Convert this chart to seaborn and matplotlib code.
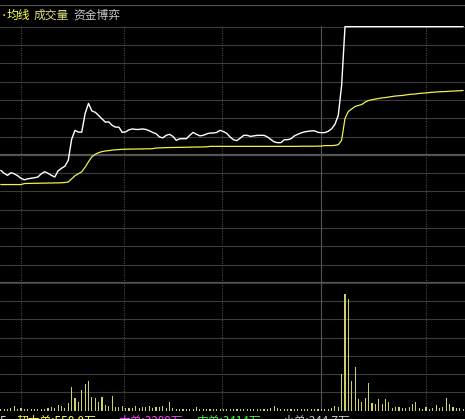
import numpy as np
import pandas as pd
import matplotlib
matplotlib.use("Agg")
import matplotlib.pyplot as plt
import seaborn as sns

# ---------------- data ----------------
# intraday price, % change vs previous close, one value per minute
price = [
    -1.21, -1.44, -1.60, -1.40, -1.48, -1.63, -1.83, -1.95, -1.87, -1.83,
    -1.79, -1.73, -1.48, -1.32, -1.44, -1.60, -1.73, -1.25, -1.05, -0.89,
    -0.43, 1.21, 1.91, 1.77, 1.77, 3.23, 4.01, 3.42, 3.32, 3.07,
    2.80, 2.55, 2.57, 2.30, 2.16, 2.16, 1.75, 1.79, 1.95, 2.02,
    1.98, 1.98, 2.02, 1.98, 1.88, 1.75, 1.65, 1.40, 1.32, 1.52,
    1.60, 1.44, 1.13, 1.25, 1.26, 1.26, 1.52, 1.75, 1.60, 1.48,
    1.52, 1.63, 1.70, 1.70, 1.75, 1.91, 1.81, 1.67, 1.38, 1.17,
    1.11, 1.32, 1.52, 1.52, 1.44, 1.48, 1.52, 1.52, 1.52, 1.40,
    1.21, 1.01, 0.95, 0.95, 1.17, 1.18, 1.25, 1.48, 1.60, 1.71,
    1.79, 1.83, 1.87, 1.87, 1.75, 1.73, 1.73, 1.83, 2.02, 2.37,
    3.07, 5.41, 10.0, 10.0, 10.0, 10.0, 10.0, 10.0, 10.0, 10.0,
    10.0, 10.0, 10.0, 10.0, 10.0, 10.0, 10.0, 10.0, 10.0, 10.0,
    10.0, 10.0, 10.0, 10.0, 10.0, 10.0, 10.0, 10.0, 10.0, 10.0,
    10.0, 10.0, 10.0, 10.0, 10.0, 10.0, 10.0, 10.0,
]
# average price line (均线), % change
avg_line = [
    -2.32, -2.32, -2.32, -2.32, -2.32, -2.32, -2.32, -2.24, -2.23, -2.23,
    -2.22, -2.22, -2.21, -2.21, -2.20, -2.20, -2.19, -2.19, -2.18, -2.16,
    -2.12, -1.87, -1.63, -1.48, -1.32, -0.97, -0.54, -0.16, 0.04, 0.17,
    0.25, 0.30, 0.33, 0.37, 0.39, 0.41, 0.43, 0.44, 0.44, 0.45,
    0.45, 0.46, 0.46, 0.47, 0.47, 0.48, 0.53, 0.54, 0.55, 0.56,
    0.57, 0.57, 0.58, 0.58, 0.59, 0.59, 0.60, 0.60, 0.61, 0.61,
    0.62, 0.62, 0.66, 0.66, 0.66, 0.66, 0.66, 0.66, 0.66, 0.66,
    0.66, 0.66, 0.66, 0.66, 0.66, 0.66, 0.66, 0.66, 0.66, 0.66,
    0.66, 0.66, 0.66, 0.66, 0.66, 0.66, 0.66, 0.66, 0.66, 0.67,
    0.67, 0.67, 0.67, 0.67, 0.68, 0.68, 0.72, 0.72, 0.72, 0.74,
    0.79, 1.13, 2.84, 3.39, 3.58, 3.77, 3.85, 3.93, 4.12, 4.24,
    4.30, 4.35, 4.40, 4.44, 4.47, 4.51, 4.55, 4.59, 4.61, 4.63,
    4.67, 4.71, 4.73, 4.75, 4.79, 4.81, 4.83, 4.86, 4.88, 4.90,
    4.92, 4.93, 4.94, 4.96, 4.97, 4.99, 5.00, 5.02,
]
# volume per minute (hundreds of lots)
volume = [
    1.2, 1.5, 1.5, 2.2, 4.5, 1.5, 2.2, 1.2, 1.2, 1.2,
    1.2, 1.5, 1.5, 1.5, 2.2, 3.2, 2.8, 5.5, 4.5, 2.5,
    7.2, 23.2, 12.8, 8.8, 20.5, 26.5, 29.5, 13.2, 12.2, 8.8,
    13.8, 5.5, 4.5, 14.5, 3.8, 3.8, 4.5, 2.2, 2.2, 2.2,
    4.5, 2.5, 3.8, 3.2, 4.8, 2.2, 3.8, 3.8, 4.8, 2.2,
    8.8, 2.5, 1.8, 1.2, 1.2, 1.2, 1.2, 1.2, 3.5, 1.2,
    1.5, 1.2, 1.2, 1.2, 1.2, 1.2, 1.2, 1.2, 1.2, 1.2,
    1.2, 1.2, 1.2, 1.2, 1.2, 1.2, 1.2, 1.2, 1.2, 1.8,
    2.8, 4.5, 2.2, 1.2, 1.2, 1.2, 1.2, 1.2, 1.5, 1.5,
    1.5, 1.5, 1.5, 1.5, 1.5, 1.8, 1.5, 1.8, 2.2, 4.5,
    3.8, 36.2, 116.5, 111.5, 29.5, 43.2, 11.5, 8.2, 12.2, 27.2,
    7.2, 6.5, 11.5, 6.5, 11.5, 8.2, 2.8, 3.5, 3.5, 2.2,
    2.8, 3.8, 6.5, 8.8, 2.2, 1.2, 3.2, 1.2, 2.2, 5.5,
    2.8, 3.2, 12.2, 6.5, 3.5, 2.8, 2.2, 1.2,
]

minutes = list(range(len(price)))
half_hour_marks = [6, 36.5, 65.5, 95, 126]   # 10:00 10:30 11:00 11:30/13:00 13:30
session_break = 95

legend_labels = ["均线", "成交量", "资金博弈"]
legend_colors = ["#FFFF40", "#E0E080", "#C8C8C8"]
flow_labels = ["5", "超大单:558.0万", "大单:3388万", "中单:3414万", "小单:344.7万"]
flow_colors = ["#DDDDDD", "#FFFF40", "#FF40FF", "#40FF40", "#C8C8C8"]

# ---------------- drawing ----------------
sns.set_theme(style="dark")
plt.rcParams["font.family"] = ["Noto Sans CJK SC", "DejaVu Sans"]

W, H = 465, 419
fig = plt.figure(figsize=(W / 100, H / 100), dpi=100, facecolor="black")

def fy(px):
    return 1 - px / H

x0 = -0.75 / 3.375
x1 = (W - 0.75) / 3.375

ax_p = fig.add_axes([0, fy(283), 1, (283 - 26) / H])
ax_v = fig.add_axes([0, fy(410.5), 1, (410.5 - 283) / H])

for ax in (ax_p, ax_v):
    ax.set_facecolor("black")
    for s in ax.spines.values():
        s.set_visible(False)
    ax.grid(False)

grid_c = "#3C3C3C"
strong_c = "#555555"

# price grid
step = 10 / 7
for k in range(-7, 8):
    v = k * step
    if k in (0, -7):
        ax_p.axhline(v, color=strong_c, lw=1.6, zorder=1)
    else:
        ax_p.axhline(v, color=grid_c, lw=0.8, zorder=1)
# volume grid
vstep = 127.5 / 7
for k in range(0, 8):
    ax_v.axhline(k * vstep, color=grid_c, lw=0.8, zorder=1)

for ax in (ax_p, ax_v):
    for m in half_hour_marks:
        if m == session_break:
            ax.axvline(m, color=strong_c, lw=0.8, zorder=1)
        else:
            ax.axvline(m, color="#4A4A4A", lw=0.8, ls=(0, (1, 1.2)), zorder=1)

df = pd.DataFrame({"minute": minutes, "price": price, "avg": avg_line})
sns.lineplot(data=df, x="minute", y="avg", ax=ax_p, color="#F0F050", lw=0.9, zorder=3)
sns.lineplot(data=df, x="minute", y="price", ax=ax_p, color="white", lw=1.0, zorder=4)
ax_p.set_xlim(x0, x1)
ax_p.set_ylim(-10, 10.05)

dv = pd.DataFrame({"minute": minutes, "volume": volume})
sns.barplot(data=dv, x="minute", y="volume", ax=ax_v, color="#CFCF66",
            width=0.32, saturation=1, linewidth=0, zorder=3)
ax_v.set_xlim(x0, x1)
ax_v.set_ylim(0, 127.5)

for ax in (ax_p, ax_v):
    ax.set_xticks([])
    ax.set_yticks([])
    ax.set_xlabel("")
    ax.set_ylabel("")

# top separator
fig.add_artist(plt.Line2D([0, 1], [fy(5), fy(5)], color=strong_c, lw=0.8))

# legend row
fig.text(0 / W, fy(15), "·", color="#FFFF40", fontsize=6, va="center", ha="left")
xs = [7, 34, 73]
for xp, lab, c in zip(xs, legend_labels, legend_colors):
    fig.text(xp / W, fy(15.5), lab, color=c, fontsize=8.5, va="center", ha="left")

# bottom fund-flow row (cut off by the image edge, as in the original screenshot)
bx = [0, 17, 118, 197, 283]
for xp, lab, c in zip(bx, flow_labels, flow_colors):
    fig.text(xp / W, fy(414.5), lab, color=c, fontsize=8.5, va="top", ha="left")

fig.savefig("out.png", dpi=100, facecolor="black")
